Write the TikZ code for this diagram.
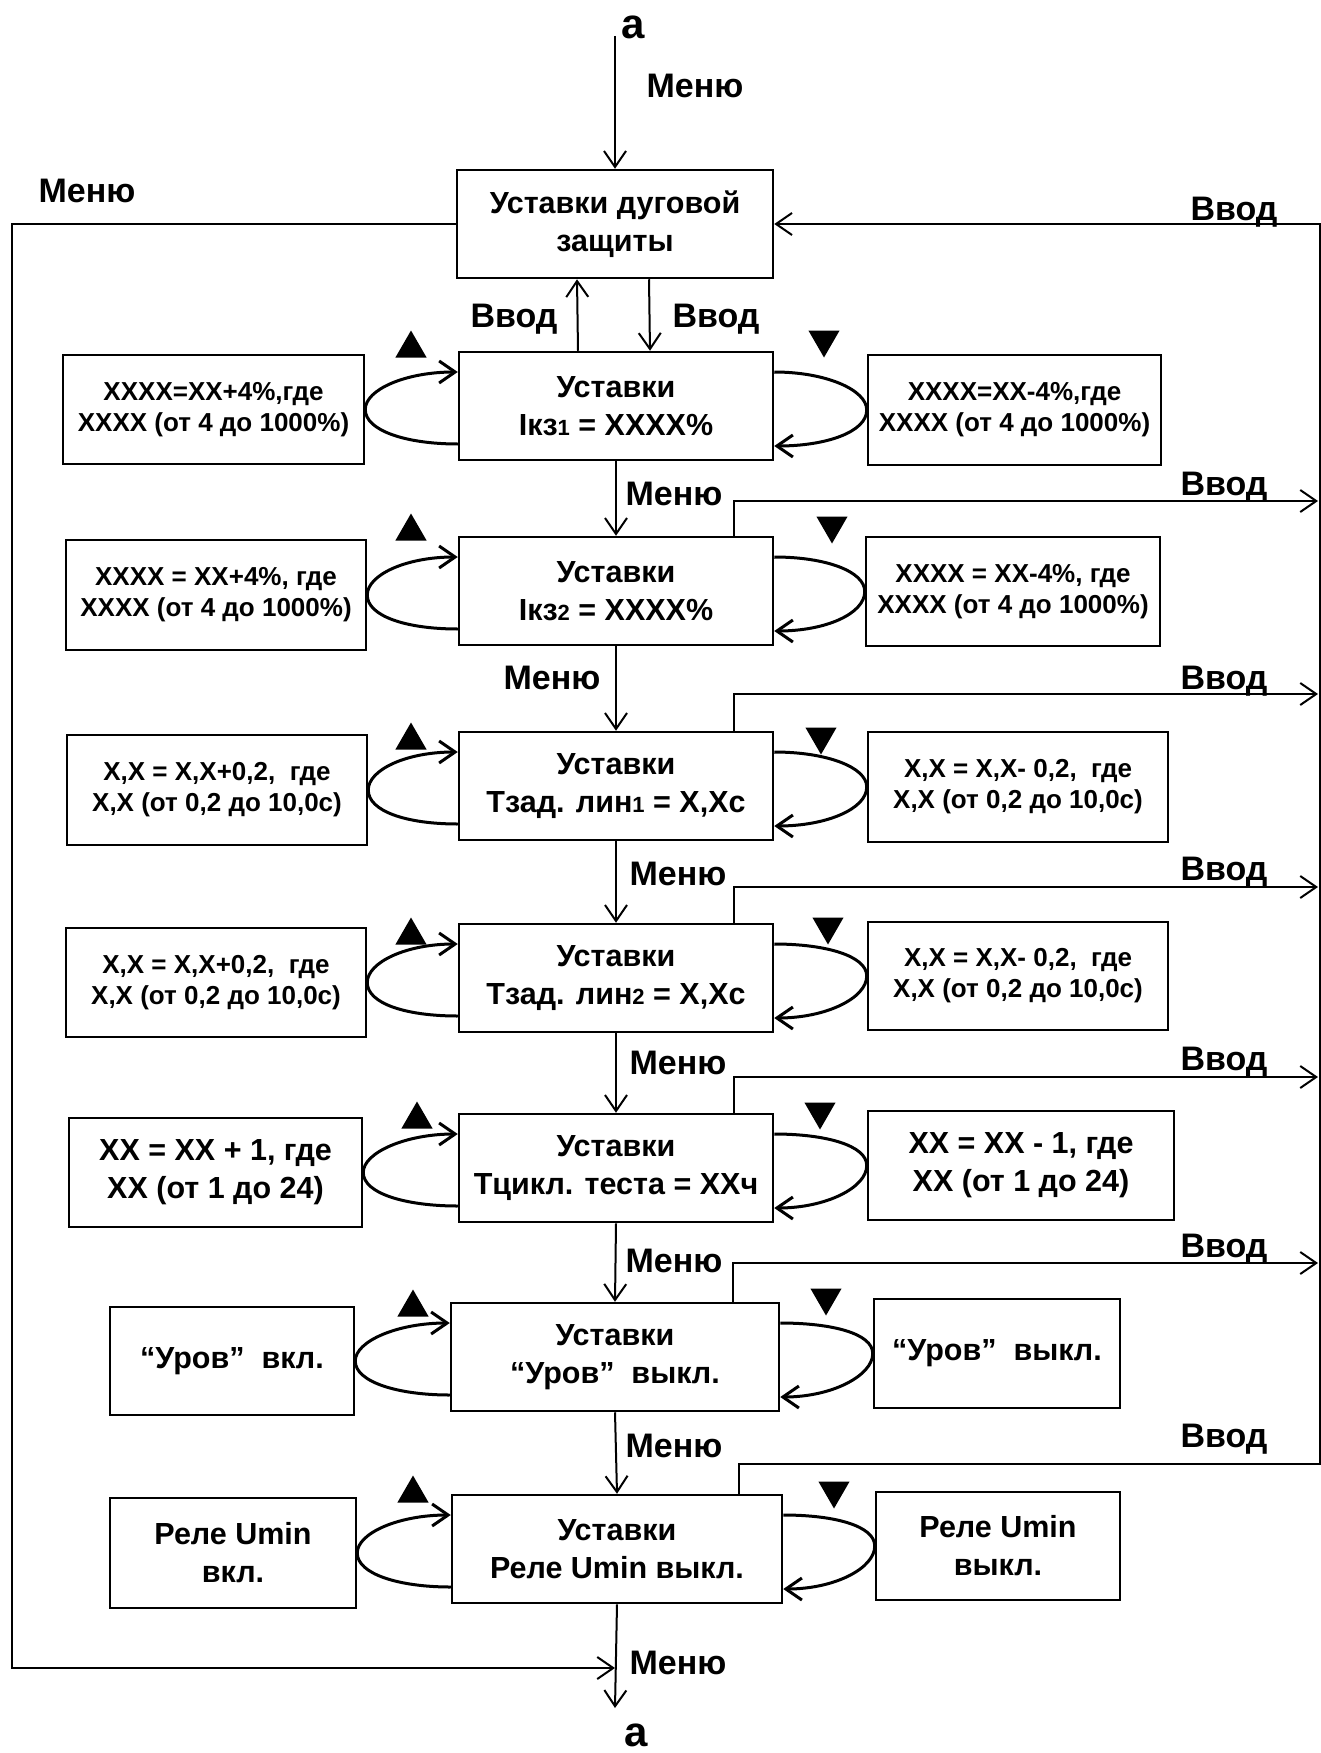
\documentclass[tikz,border=0pt]{standalone}
\usepackage{fontspec}
\setmainfont{Liberation Sans}
\usetikzlibrary{arrows.meta,shapes.geometric}

\newcommand{\smalldig}[1]{{\fontsize{22}{22}\selectfont #1}}

\tikzset{
  box/.style={draw, line width=2.5pt, align=center, inner sep=0pt,
    font=\bfseries\fontsize{30.5}{38}\selectfont},
  side/.style={box, font=\bfseries\fontsize{26}{31}\selectfont},
  lbl/.style={inner sep=0pt, text height=24pt, text depth=0pt,
    font=\bfseries\fontsize{34}{34}\selectfont},
  link/.style={line width=2pt, -{Straight Barb[length=16pt,width=22pt]}},
  turn/.style={line width=3pt, -{Straight Barb[length=16pt,width=22pt]}},
  uptri/.style={regular polygon, regular polygon sides=3, fill, draw=none,
    inner sep=0pt, minimum size=36pt},
  dntri/.style={uptri, shape border rotate=180}
}

\begin{document}
\begin{tikzpicture}[x=1pt, y=-1pt]
  \useasboundingbox (0,0) rectangle (1321,1753);

  % center column
  \node[box, minimum width=316pt, minimum height=108pt] (c0) at (615,224) {Уставки дуговой\\защиты};
  \node[box, minimum width=314pt, minimum height=108pt] (c1) at (616,406) {Уставки\\Iкз\smalldig{1} = XXXX\%};
  \node[box, minimum width=314pt, minimum height=108pt] (c2) at (616,591) {Уставки\\Iкз\smalldig{2} = XXXX\%};
  \node[box, minimum width=314pt, minimum height=108pt] (c3) at (616,786) {Уставки\\Тзад. лин\smalldig{1} = X,Xс};
  \node[box, minimum width=314pt, minimum height=108pt] (c4) at (616,978) {Уставки\\Тзад. лин\smalldig{2} = X,Xс};
  \node[box, minimum width=314pt, minimum height=108pt] (c5) at (616,1168) {Уставки\\Тцикл. теста = XXч};
  \node[box, minimum width=328pt, minimum height=108pt] (c6) at (615,1357) {Уставки\\“Уров”\ \ выкл.};
  \node[box, minimum width=330pt, minimum height=108pt] (c7) at (617,1549) {Уставки\\Реле Umin выкл.};

  % increase
  \node[side, minimum width=301pt, minimum height=109pt] (l1) at (213.5,409.5) {XXXX=XX+4\%,где\\XXXX (от 4 до 1000\%)};
  \node[side, minimum width=300pt, minimum height=110pt] (l2) at (216,595) {XXXX = XX+4\%, где\\XXXX (от 4 до 1000\%)};
  \node[side, minimum width=300pt, minimum height=110pt] (l3) at (217,790) {X,X = X,X+0,2,\ \ где\\X,X (от 0,2 до 10,0с)};
  \node[side, minimum width=300pt, minimum height=109pt] (l4) at (216,982.5) {X,X = X,X+0,2,\ \ где\\X,X (от 0,2 до 10,0с)};
  \node[box, minimum width=293pt, minimum height=109pt] (l5) at (215.5,1172.5) {XX = XX + 1, где\\XX (от 1 до 24)};
  \node[box, minimum width=244pt, minimum height=108pt] (l6) at (232,1361) {“Уров”\ \ вкл.};
  \node[box, minimum width=246pt, minimum height=110pt] (l7) at (233,1553) {Реле Umin\\вкл.};

  % decrease
  \node[side, minimum width=293pt, minimum height=110pt] (r1) at (1014.5,410) {XXXX=XX-4\%,где\\XXXX (от 4 до 1000\%)};
  \node[side, minimum width=294pt, minimum height=109pt] (r2) at (1013,591.5) {XXXX = XX-4\%, где\\XXXX (от 4 до 1000\%)};
  \node[side, minimum width=300pt, minimum height=110pt] (r3) at (1018,787) {X,X = X,X- 0,2,\ \ где\\X,X (от 0,2 до 10,0с)};
  \node[side, minimum width=300pt, minimum height=108pt] (r4) at (1018,976) {X,X = X,X- 0,2,\ \ где\\X,X (от 0,2 до 10,0с)};
  \node[box, minimum width=306pt, minimum height=109pt] (r5) at (1021,1165.5) {XX = XX - 1, где\\XX (от 1 до 24)};
  \node[box, minimum width=246pt, minimum height=109pt] (r6) at (997,1353.5) {“Уров”\ \ выкл.};
  \node[box, minimum width=244pt, minimum height=108pt] (r7) at (998,1546) {Реле Umin\\выкл.};

  % key marks
  \foreach \i/\x/\y in {1/411/344,2/411/527,3/411/736,4/411/931,5/417/1115,6/413/1303,7/413/1489}
    \node[uptri] (u\i) at (\x,\y+4.5) {};
  \foreach \i/\x/\y in {1/824/344,2/832/530,3/821/741,4/828/931,5/820/1116,6/826/1302,7/834/1495}
    \node[dntri] (d\i) at (\x,\y-4.5) {};

  % loops
  \foreach \i in {1,...,7} {
    \draw[turn] ([yshift=-38pt]c\i.west)
      to[out=180,in=-90,out distance=52pt,in distance=21pt] (l\i.east)
      to[out=90,in=180,out distance=20pt,in distance=52pt] ([yshift=34pt]c\i.west);
    \draw[turn] ([yshift=34pt]c\i.east)
      to[out=0,in=90,out distance=52pt,in distance=20pt] (r\i.west)
      to[out=-90,in=0,out distance=22pt,in distance=52pt] ([yshift=-40pt]c\i.east);
  }

  % Menu chain
  \coordinate (atop) at (615,36);
  \coordinate (joint) at (615,1668);
  \coordinate (abot) at (615,1708);
  \node[font=\bfseries\fontsize{42}{42}\selectfont, inner sep=0pt] (a1) at (633,27) {а};
  \node[font=\bfseries\fontsize{42}{42}\selectfont, inner sep=0pt] (a2) at (636,1735) {а};
  \draw[link] (atop) -- (c0.north);
  \draw[link] ([xshift=-38pt]c1.north) -- ([xshift=-38pt]c0.south);
  \draw[link] ([xshift=34pt]c0.south) -- ([xshift=34pt]c1.north);
  \foreach \i [count=\j from 2] in {1,...,6}
    \draw[link] (c\i.south) -- (c\j.north);
  \draw[link] (c7.south) -- (abot);
  \draw[link] (c0.west) -| (12,1668) -- (joint);

  % Enter lines
  \foreach \k/\y in {2/501,3/694,4/887,5/1077,6/1263} {
    \coordinate (e\k) at (1318,\y);
    \draw[link] ([xshift=118pt]c\k.north) |- (e\k);
  }
  \coordinate (e7) at (1320,1464);
  \draw[link] ([xshift=122pt]c7.north) |- (e7) |- (c0.east);

  % labels
  \node[lbl] (m0) at (695,85) {Меню};
  \node[lbl] (mL) at (87,190) {Меню};
  \node[lbl] (vR) at (1234,208) {Ввод};
  \node[lbl] (v0a) at (514,315) {Ввод};
  \node[lbl] (v0b) at (716,315) {Ввод};
  \foreach \x/\y [count=\n] in {674/493,552/677,678/873,678/1062,674/1260,674/1445,678/1662}
    \node[lbl] (m\n) at (\x,\y) {Меню};
  \foreach \y [count=\n] in {483,677,868,1058,1245,1435}
    \node[lbl] (v\n) at (1224,\y) {Ввод};
\end{tikzpicture}
\end{document}
